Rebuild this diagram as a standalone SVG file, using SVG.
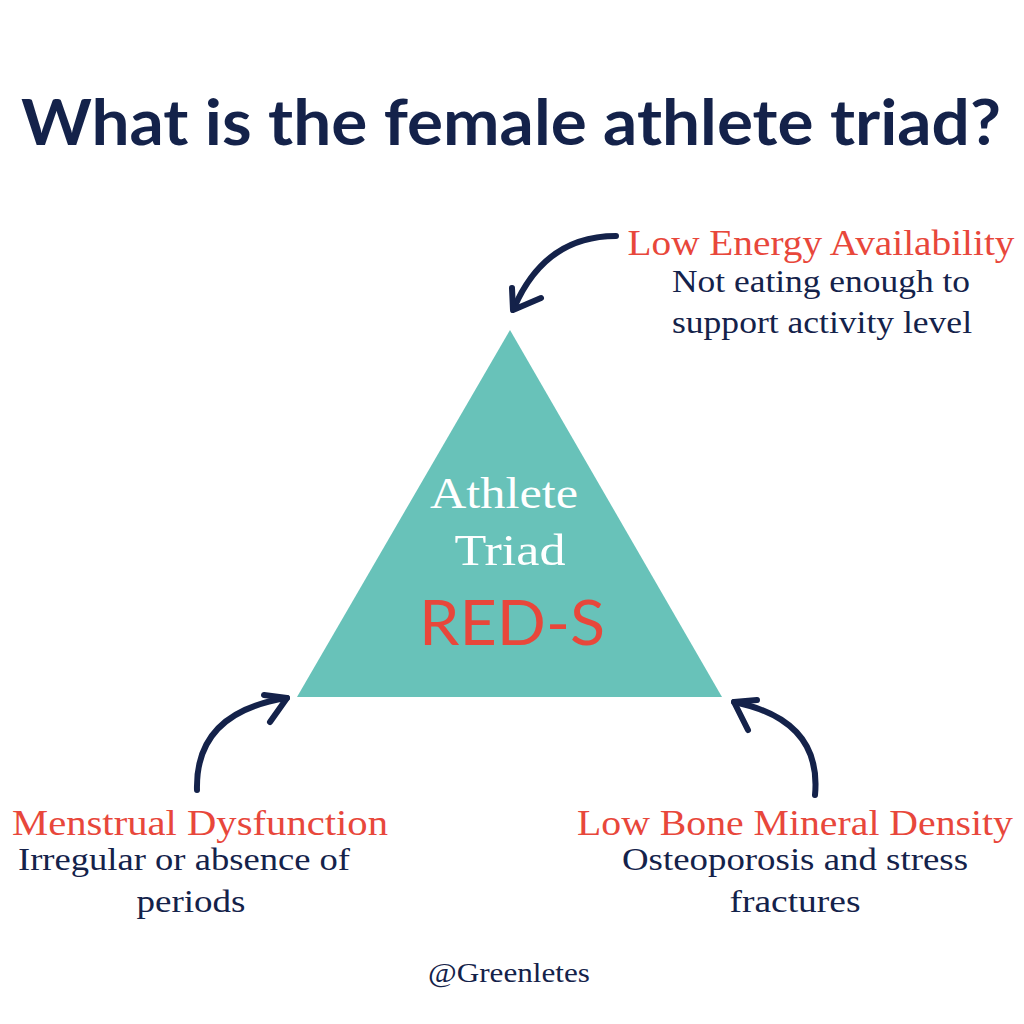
<svg xmlns="http://www.w3.org/2000/svg" width="1024" height="1024" viewBox="0 0 1024 1024">
<style>
.title{font-family:"Lato","Open Sans",sans-serif;font-weight:700;fill:#14224a}
.serif{font-family:"Liberation Serif","DejaVu Serif",serif}
.red{fill:#e8473b}
.navy{fill:#14224a}
.arrow{fill:none;stroke:#14224a;stroke-width:6;stroke-linecap:round;stroke-linejoin:round}
</style>
<rect width="1024" height="1024" fill="#ffffff"/>
<text class="title" x="511" y="145" font-size="64" text-anchor="middle" textLength="980" lengthAdjust="spacingAndGlyphs">What is the female athlete triad?</text>
<g id="triangle">
<polygon points="510,330 297,697 722,697" fill="#68c2b9"/>
<text class="serif" x="504" y="508" font-size="45" fill="#ffffff" text-anchor="middle" textLength="148" lengthAdjust="spacingAndGlyphs">Athlete</text>
<text class="serif" x="510" y="565" font-size="45" fill="#ffffff" text-anchor="middle" textLength="111" lengthAdjust="spacingAndGlyphs">Triad</text>
<text x="512" y="645" font-size="62" font-family="Lato,'Open Sans',sans-serif" class="red" text-anchor="middle" textLength="186" lengthAdjust="spacingAndGlyphs">RED-S</text>
</g>
<g id="energy">
<text class="serif red" x="821" y="255" font-size="35" text-anchor="middle" textLength="387" lengthAdjust="spacingAndGlyphs">Low Energy Availability</text>
<text class="serif navy" x="821" y="292" font-size="32" text-anchor="middle" textLength="298" lengthAdjust="spacingAndGlyphs">Not eating enough to</text>
<text class="serif navy" x="822" y="333" font-size="32" text-anchor="middle" textLength="300" lengthAdjust="spacingAndGlyphs">support activity level</text>
</g>
<g id="menstrual">
<text class="serif red" x="200" y="835" font-size="35" text-anchor="middle" textLength="376" lengthAdjust="spacingAndGlyphs">Menstrual Dysfunction</text>
<text class="serif navy" x="184" y="870" font-size="32" text-anchor="middle" textLength="332" lengthAdjust="spacingAndGlyphs">Irregular or absence of</text>
<text class="serif navy" x="191" y="912" font-size="32" text-anchor="middle" textLength="109" lengthAdjust="spacingAndGlyphs">periods</text>
</g>
<g id="bone">
<text class="serif red" x="795" y="835" font-size="35" text-anchor="middle" textLength="436" lengthAdjust="spacingAndGlyphs">Low Bone Mineral Density</text>
<text class="serif navy" x="795" y="870" font-size="32" text-anchor="middle" textLength="346" lengthAdjust="spacingAndGlyphs">Osteoporosis and stress</text>
<text class="serif navy" x="795" y="912" font-size="32" text-anchor="middle" textLength="131" lengthAdjust="spacingAndGlyphs">fractures</text>
</g>
<g id="connectors">
<path class="arrow" d="M616 236 Q545 236 514 308"/>
<path class="arrow" d="M512 288 L513 310 L541 298"/>
<path class="arrow" d="M197 790 Q195 712 287 698"/>
<path class="arrow" d="M264 695 L287 698 L270 722"/>
<path class="arrow" d="M815 795 Q822 720 734 702"/>
<path class="arrow" d="M757 700 L734 702 L748 730"/>
</g>
<text class="serif navy" x="509" y="982" font-size="27" text-anchor="middle" textLength="162" lengthAdjust="spacingAndGlyphs">@Greenletes</text>
</svg>
